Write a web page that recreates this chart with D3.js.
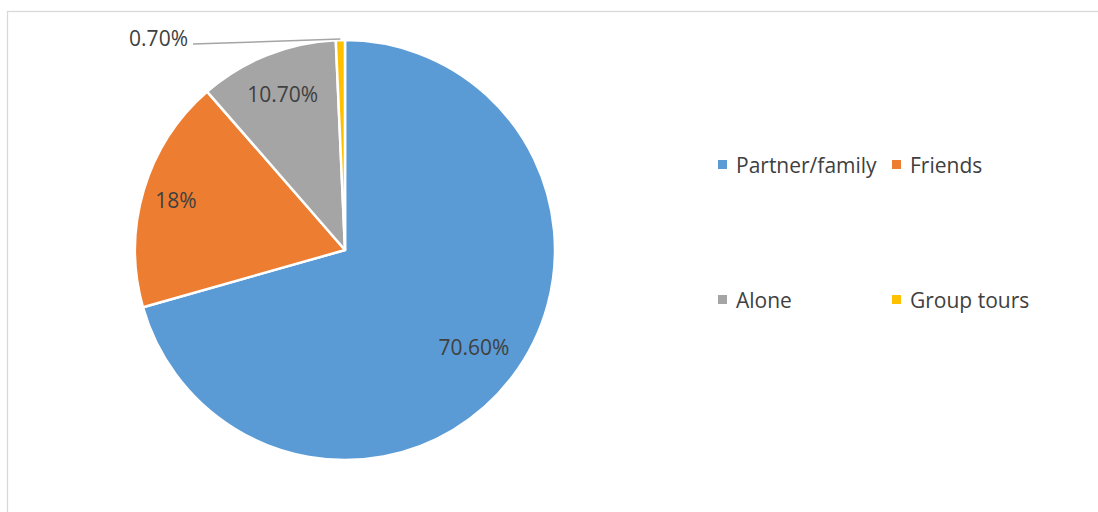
<!DOCTYPE html>
<html>
<head>
<meta charset="utf-8">
<script src="https://cdn.jsdelivr.net/npm/d3@7"></script>
<style>
  body { margin: 0; background: #fff; }
  text { font-family: "Open Sans", sans-serif; fill: #404040; }
</style>
</head>
<body>
<div class="chart"></div>
<script>
const categories = ['Partner/family', 'Friends', 'Alone', 'Group tours'];
const values = [70.6, 18, 10.7, 0.7];
const valueLabels = ['70.60%', '18%', '10.70%', '0.70%'];
const colors = ['#5B9BD5', '#ED7D31', '#A5A5A5', '#FFC000'];

const width = 1098;
const height = 512;
const cx = 345, cy = 250, radius = 210;

const svg = d3.select('.chart')
    .append('svg')
    .attr('width', width)
    .attr('height', height);

// chart area border (runs off right and bottom)
svg.append('rect')
    .attr('x', 7.5).attr('y', 11.5)
    .attr('width', width + 20).attr('height', height + 20)
    .attr('fill', 'none')
    .attr('stroke', '#d9d9d9')
    .attr('stroke-width', 1.3);

const data = categories.map((c, i) => ({ name: c, value: values[i], label: valueLabels[i], color: colors[i] }));

const pie = d3.pie().value(d => d.value).sort(null);
const arc = d3.arc().innerRadius(0).outerRadius(radius);
const arcs = pie(data);

const g = svg.append('g').attr('transform', `translate(${cx}, ${cy})`);

g.selectAll('path.slice')
    .data(arcs)
    .enter().append('path')
    .attr('class', 'slice')
    .attr('d', arc)
    .attr('fill', d => d.data.color)
    .attr('stroke', '#fff')
    .attr('stroke-width', 2.5)
    .attr('stroke-linejoin', 'round');

// data labels placed inside slices
const labelPos = [0.77, 0.84, 0.80];
arcs.slice(0, 3).forEach((a, i) => {
    const la = d3.arc().innerRadius(radius * labelPos[i]).outerRadius(radius * labelPos[i]);
    const [x, y] = la.centroid(a);
    g.append('text')
        .attr('x', x).attr('y', y)
        .attr('text-anchor', 'middle')
        .attr('dominant-baseline', 'central')
        .attr('font-size', 21)
        .text(a.data.label);
});

// tiny slice: label outside with leader line
const small = arcs[3];
const mid = (small.startAngle + small.endAngle) / 2;
const edge = [Math.sin(mid) * (radius + 1), -Math.cos(mid) * (radius + 1)];
g.append('path')
    .attr('d', d3.line()([[-152, -206], edge]))
    .attr('stroke', '#a5a5a5')
    .attr('stroke-width', 1.5)
    .attr('fill', 'none');
g.append('text')
    .attr('x', -157).attr('y', -212)
    .attr('text-anchor', 'end')
    .attr('dominant-baseline', 'central')
    .attr('font-size', 21)
    .text(small.data.label);

// legend
const legendX = [719, 893];
const legendY = [165, 300];
const legend = svg.append('g');
data.forEach((d, i) => {
    const lx = legendX[i % 2], ly = legendY[Math.floor(i / 2)];
    legend.append('rect')
        .attr('x', lx - 1).attr('y', ly - 5)
        .attr('width', 9).attr('height', 9)
        .attr('fill', d.color);
    legend.append('text')
        .attr('x', lx + 17).attr('y', ly)
        .attr('dominant-baseline', 'central')
        .attr('font-size', 21)
        .text(d.name);
});
</script>
</body>
</html>
